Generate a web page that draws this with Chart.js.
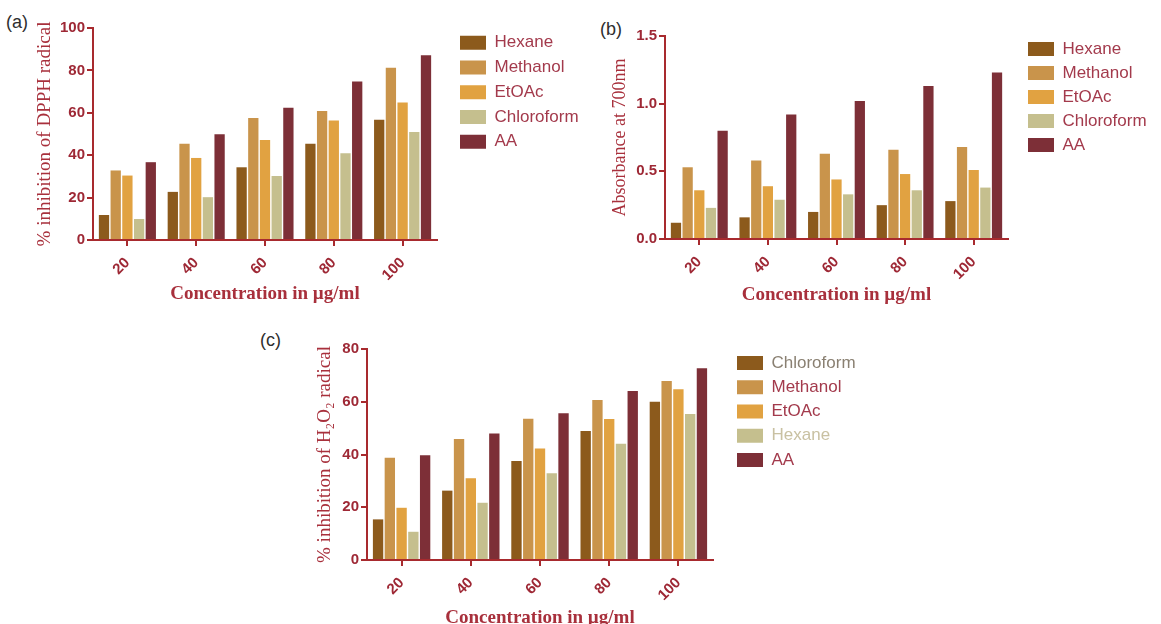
<!DOCTYPE html>
<html><head><meta charset="utf-8">
<script src="https://cdn.jsdelivr.net/npm/chart.js@4/dist/chart.umd.min.js"></script>
<style>
html,body{margin:0;padding:0;background:#fff;width:1161px;height:624px;overflow:hidden;position:relative}
.wrap{position:absolute}
.lab{position:absolute;font:18px "Liberation Sans",Arial,sans-serif;color:#2e2e2e;line-height:20px}
</style></head><body>
<div class="lab" style="left:6px;top:12px">(a)</div>
<div class="lab" style="left:600px;top:19px">(b)</div>
<div class="lab" style="left:260px;top:330px">(c)</div>
<div class="wrap" style="left:0;top:0"><canvas id="ca" width="600" height="310"></canvas></div>
<div class="wrap" style="left:600px;top:0"><canvas id="cb" width="561" height="310"></canvas></div>
<div class="wrap" style="left:250px;top:320px"><canvas id="cc" width="650" height="310"></canvas></div>
<script>
// ---------- data ----------
const categories = ['20', '40', '60', '80', '100'];

// (a) % inhibition of DPPH radical
const dpphHexane     = [11.8, 22.7, 34.3, 45.4, 56.7];
const dpphMethanol   = [32.8, 45.4, 57.5, 60.9, 81.3];
const dpphEtOAc      = [30.4, 38.7, 47.2, 56.4, 64.9];
const dpphChloroform = [9.9, 20.2, 30.2, 40.9, 50.9];
const dpphAA         = [36.7, 49.9, 62.4, 74.8, 87.1];

// (b) Absorbance at 700nm
const absHexane     = [0.12, 0.16, 0.20, 0.25, 0.28];
const absMethanol   = [0.53, 0.58, 0.63, 0.66, 0.68];
const absEtOAc      = [0.36, 0.39, 0.44, 0.48, 0.51];
const absChloroform = [0.23, 0.29, 0.33, 0.36, 0.38];
const absAA         = [0.80, 0.92, 1.02, 1.13, 1.23];

// (c) % inhibition of H2O2 radical
const h2o2Chloroform = [15.4, 26.3, 37.5, 48.9, 60.0];
const h2o2Methanol   = [38.8, 45.9, 53.6, 60.7, 67.9];
const h2o2EtOAc      = [19.8, 31.0, 42.3, 53.5, 64.7];
const h2o2Hexane     = [10.7, 21.7, 32.9, 44.1, 55.4];
const h2o2AA         = [39.7, 48.0, 55.6, 64.1, 72.7];

const yTicksA = [0, 100, 20];
const yTicksB = [0, 1.5, 0.5];
const yTicksC = [0, 80, 20];

// ---------- styles ----------
const C1 = '#8c5a1c', C2 = '#c9944b', C3 = '#e1a241', C4 = '#c5bf8e', C5 = '#7d2f37';
const AXIS = '#a82a2e', TICK = '#9e2835', TITLE = '#a8303c', LEG = '#a33a4c';
const SANS = '"Liberation Sans", Arial, sans-serif';
const SERIF = '"Liberation Serif", "Times New Roman", serif';

const legendMover = {
  id: 'legendMover',
  afterLayout(chart, args, opts) {
    const lg = chart.legend;
    if (!lg || opts.x == null) return;
    const pad = lg.options.labels.padding;
    lg.left = opts.x - pad; lg.top = opts.y - pad;
    lg.width = 200; lg.height = 200;
    lg.right = lg.left + 200; lg.bottom = lg.top + 200;
  }
};

function ds(label, data, color) {
  return {label, data, backgroundColor: color, borderWidth: 0,
          barPercentage: 0.88, categoryPercentage: 0.85};
}

function makeChart(id, cfg) {
  const ctx = document.getElementById(id);
  return new Chart(ctx, {
    type: 'bar',
    data: {labels: categories, datasets: cfg.datasets},
    plugins: [legendMover],
    options: {
      responsive: false, animation: false, devicePixelRatio: 1,
      layout: {padding: cfg.padding},
      plugins: {
        tooltip: {enabled: false},
        legendMover: cfg.legendPos,
        legend: {
          position: 'chartArea', align: 'start',
          labels: {
            boxWidth: 26, boxHeight: 14, padding: cfg.legendPad,
            font: {family: SANS, size: 17},
            generateLabels(chart) {
              const items = Chart.defaults.plugins.legend.labels.generateLabels(chart);
              items.forEach((it, i) => { it.fontColor = cfg.legendColors[i]; it.lineWidth = 0; });
              return items;
            }
          }
        }
      },
      scales: {
        x: {
          offset: true,
          grid: {display: true, drawOnChartArea: false, drawTicks: true, tickLength: 6, offset: false, color: AXIS, lineWidth: 2},
          border: {display: true, color: AXIS, width: 2},
          ticks: {color: TICK, font: {family: SANS, size: 15, weight: 'bold'}, minRotation: 45, maxRotation: 45, padding: 8, autoSkip: false},
          title: {display: true, text: 'Concentration in µg/ml', color: TITLE,
                  font: {family: SERIF, size: 19, weight: 'bold', lineHeight: 1.2},
                  padding: {top: 0, bottom: cfg.xTitlePad}},
          afterFit(s) { s.height = cfg.xh; }
        },
        y: {
          min: cfg.yTicks[0], max: cfg.yTicks[1],
          grid: {display: true, drawOnChartArea: false, drawTicks: true, tickLength: 6, color: AXIS, lineWidth: 2},
          border: {display: true, color: AXIS, width: 2},
          ticks: {stepSize: cfg.yTicks[2], color: TICK, font: {family: SANS, size: 15, weight: 'bold'}, padding: 2,
                  callback: cfg.fmt},
          title: {display: true, text: cfg.yTitle, color: TITLE,
                  font: {family: SERIF, size: cfg.yTitleSize, lineHeight: 1.2},
                  padding: {top: cfg.yTitleOff - cfg.yTitleSize * 0.6, bottom: 0}},
          afterFit(s) { s.width = cfg.yw; }
        }
      }
    }
  });
}

const redLeg = [LEG, LEG, LEG, LEG, LEG];

makeChart('ca', {
  datasets: [ds('Hexane', dpphHexane, C1), ds('Methanol', dpphMethanol, C2), ds('EtOAc', dpphEtOAc, C3),
             ds('Chloroform', dpphChloroform, C4), ds('AA', dpphAA, C5)],
  padding: {left: 0, top: 28, right: 163, bottom: 0},
  yw: 93, xh: 70, xTitlePad: 5,
  yTicks: yTicksA, fmt: v => v,
  yTitle: '% inhibition of DPPH radical', yTitleSize: 19, yTitleOff: 45,
  legendPos: {x: 460, y: 34.2}, legendPad: 7.75, legendColors: redLeg
});

makeChart('cb', {
  datasets: [ds('Hexane', absHexane, C1), ds('Methanol', absMethanol, C2), ds('EtOAc', absEtOAc, C3),
             ds('Chloroform', absChloroform, C4), ds('AA', absAA, C5)],
  padding: {left: 0, top: 36, right: 153, bottom: 0},
  yw: 65, xh: 71, xTitlePad: 4,
  yTicks: yTicksB, fmt: v => Number(v).toFixed(1),
  yTitle: 'Absorbance at 700nm', yTitleSize: 18, yTitleOff: 20,
  legendPos: {x: 428, y: 40.5}, legendPad: 7, legendColors: redLeg
});

makeChart('cc', {
  datasets: [ds('Chloroform', h2o2Chloroform, C1), ds('Methanol', h2o2Methanol, C2), ds('EtOAc', h2o2EtOAc, C3),
             ds('Hexane', h2o2Hexane, C4), ds('AA', h2o2AA, C5)],
  padding: {left: 0, top: 29, right: 187, bottom: 0},
  yw: 117, xh: 70, xTitlePad: 1,
  yTicks: yTicksC, fmt: v => v,
  yTitle: '% inhibition of H₂O₂ radical', yTitleSize: 19, yTitleOff: 75,
  legendPos: {x: 487, y: 34.5}, legendPad: 7.25,
  legendColors: ['#8a8072', LEG, LEG, '#c9c1a2', LEG]
});
</script>
</body></html>
